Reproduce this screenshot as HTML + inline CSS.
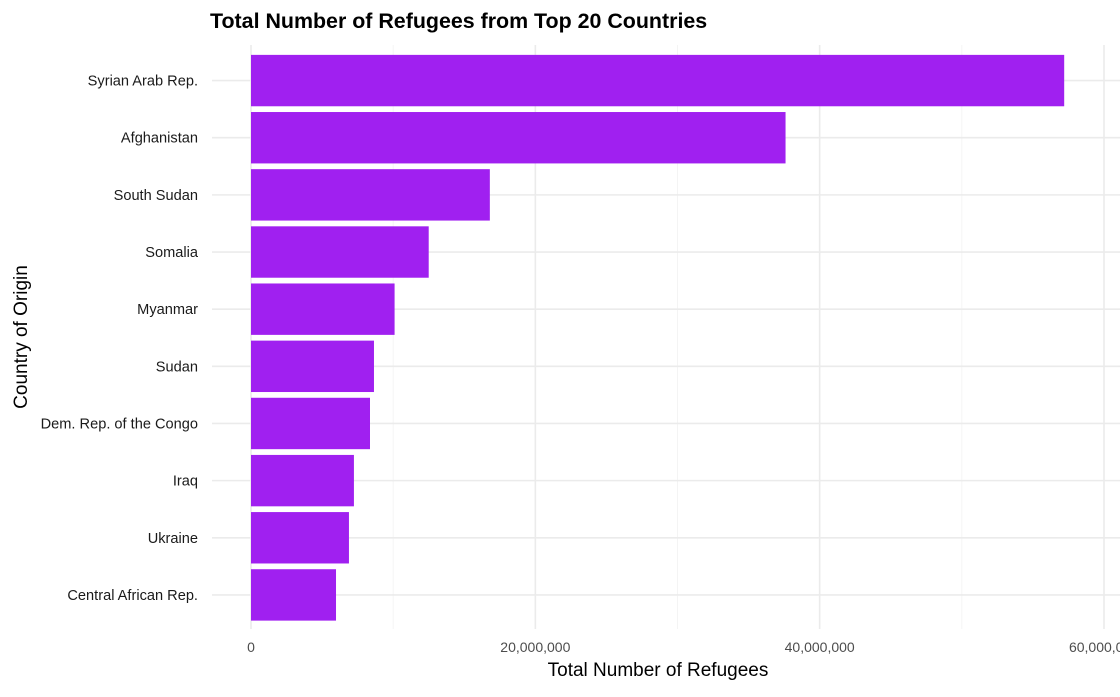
<!DOCTYPE html>
<html><head><meta charset="utf-8"><style>
body{margin:0;background:#fff;font-family:"Liberation Sans",sans-serif;}
svg text{font-family:"Liberation Sans",sans-serif;}
</style></head><body>
<svg id="chart" width="1120" height="692" xmlns="http://www.w3.org/2000/svg">
<text x="210" y="28" font-size="21.4" font-weight="bold" fill="#000">Total Number of Refugees from Top 20 Countries</text>
<g id="grid"></g><g id="bars"></g><g id="ylabels"></g><g id="xlabels"></g>
<text x="658" y="676" font-size="19" text-anchor="middle" fill="#000">Total Number of Refugees</text>
<text transform="translate(27,337) rotate(-90)" font-size="19" text-anchor="middle" fill="#000">Country of Origin</text>
</svg>
<script>
const categories=["Syrian Arab Rep.","Afghanistan","South Sudan","Somalia","Myanmar","Sudan","Dem. Rep. of the Congo","Iraq","Ukraine","Central African Rep."];
const values=[57200000,37600000,16800000,12500000,10100000,8650000,8370000,7240000,6890000,5980000];
const xTicks=[0,20000000,40000000,60000000];
const xTickLabels=["0","20,000,000","40,000,000","60,000,000"];
const NS="http://www.w3.org/2000/svg";
const plotX0=251,plotX1=1104,plotTop=52,rowStep=57.15;
const xs=v=>plotX0+(plotX1-plotX0)*v/60000000;
const yc=i=>plotTop+rowStep*(i+0.5);
function mk(t,a,p){const e=document.createElementNS(NS,t);for(const k in a)e.setAttribute(k,a[k]);p.appendChild(e);return e;}
const grid=document.getElementById('grid'),bars=document.getElementById('bars'),yl=document.getElementById('ylabels'),xl=document.getElementById('xlabels');
for(let k=0;k<xTicks.length;k++){
  mk('line',{x1:xs(xTicks[k]),x2:xs(xTicks[k]),y1:45,y2:629,stroke:'#ebebeb','stroke-width':1.6},grid);
  if(k<xTicks.length-1){const m=(xTicks[k]+xTicks[k+1])/2;mk('line',{x1:xs(m),x2:xs(m),y1:45,y2:629,stroke:'#f3f3f3','stroke-width':0.9},grid);}
  const t=mk('text',{x:xs(xTicks[k]),y:652,'font-size':14,'text-anchor':'middle',fill:'#4d4d4d'},xl);
  
  
  t.textContent=xTickLabels[k];
}
categories.forEach((c,i)=>{
  mk('line',{x1:212,x2:1120,y1:yc(i),y2:yc(i),stroke:'#ebebeb','stroke-width':1.6},grid);
  const r=mk('rect',{x:plotX0,y:yc(i)-25.7,width:xs(values[i])-plotX0,height:51.4,fill:'#a020f0'},bars);
  
  
  const t=mk('text',{x:198,y:yc(i)+5,'font-size':14.6,'text-anchor':'end',fill:'#1a1a1a'},yl);
  
  
  t.textContent=c;
});
</script>
</body></html>
